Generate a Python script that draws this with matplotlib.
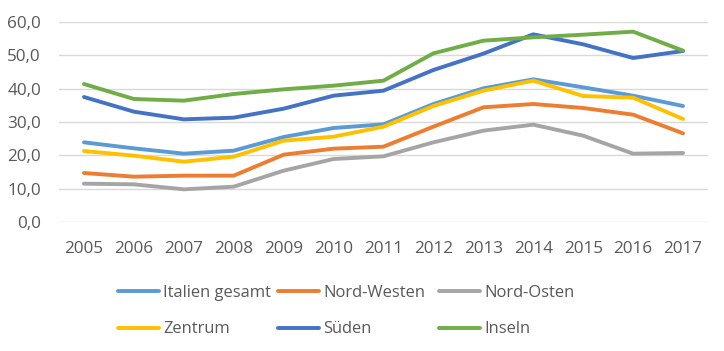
import matplotlib
matplotlib.use("Agg")
import matplotlib.pyplot as plt
from matplotlib.lines import Line2D

plt.rcParams['font.family'] = ['Open Sans', 'DejaVu Sans']

years = list(range(2005, 2018))
italien = [23.9, 22.1, 20.5, 21.4, 25.5, 28.2, 29.3, 35.4, 40.1, 42.8, 40.4, 37.9, 34.8]
nord_westen = [14.7, 13.6, 13.9, 13.9, 20.2, 22.0, 22.6, 28.6, 34.4, 35.4, 34.2, 32.2, 26.6]
nord_osten = [11.5, 11.3, 9.8, 10.6, 15.4, 18.9, 19.7, 23.9, 27.4, 29.2, 25.9, 20.5, 20.7]
zentrum = [21.3, 19.9, 18.1, 19.6, 24.4, 25.6, 28.6, 34.8, 39.4, 42.4, 37.8, 37.3, 30.9]
sueden = [37.5, 33.1, 30.8, 31.3, 34.0, 37.9, 39.4, 45.6, 50.5, 56.3, 53.3, 49.2, 51.3]
inseln = [41.4, 36.9, 36.4, 38.4, 39.8, 40.9, 42.4, 50.6, 54.4, 55.4, 56.2, 57.1, 51.4]

labels = ["Italien gesamt", "Nord-Westen", "Nord-Osten", "Zentrum", "Süden", "Inseln"]
series = [italien, nord_westen, nord_osten, zentrum, sueden, inseln]
colors = ["#5B9BD5", "#ED7D31", "#A5A5A5", "#FFC000", "#4472C4", "#70AD47"]
yticks = [0, 10, 20, 30, 40, 50, 60]

fig = plt.figure(figsize=(7.24, 3.51), dpi=100)
ax = fig.add_axes([59/724, 1 - 222/351, (708 - 59)/724, 200/351])

for i in range(len(series)):
    ax.plot(years, series[i], color=colors[i], lw=2.8, solid_capstyle='round',
            solid_joinstyle='round', zorder=3)

ax.set_xlim(2004.5, 2017.5)
ax.set_ylim(0, 60)
ax.set_yticks(yticks)
ax.set_yticklabels([f"{v:.1f}".replace(".", ",") for v in yticks])
ax.set_xticks(years)
ax.set_xticklabels([str(y) for y in years])
ax.grid(axis='y', color='#D9D9D9', lw=1, zorder=0)
for s in ax.spines.values():
    s.set_visible(False)
ax.tick_params(axis='both', length=0, labelsize=12.3, labelcolor='#595959')
ax.tick_params(axis='y', pad=13)
ax.tick_params(axis='x', pad=14)

fs = 11.9
col_x = [118, 278, 439]
for c in range(3):
    hs = []
    ls = []
    for r in range(2):
        idx = r * 3 + c
        hs.append(Line2D([], [], color=colors[idx], lw=2.8, solid_capstyle='round'))
        ls.append(labels[idx])
    fig.legend(hs, ls, loc='center left', bbox_to_anchor=(col_x[c] / 724, 1 - 311 / 351),
               frameon=False, fontsize=fs, handlelength=2.5, handletextpad=0.25,
               borderpad=0, borderaxespad=0, labelspacing=1.25, labelcolor='#595959')

fig.savefig("out.png", dpi=100)
